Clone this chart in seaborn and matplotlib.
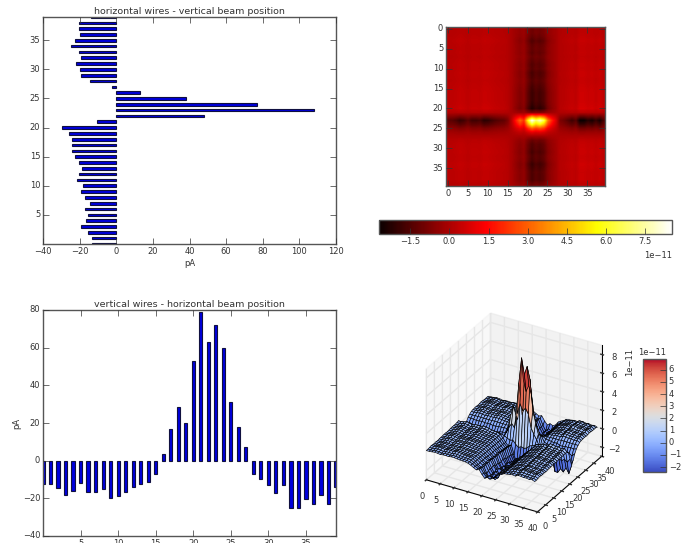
# beam profile from wire scanner: two projections plus the 2D map
import numpy as np
import pandas as pd
import matplotlib
matplotlib.use('Agg')
import matplotlib.pyplot as plt
import seaborn as sns

plt.style.use('classic')
plt.rcParams['font.family'] = ['DejaVu Sans']
plt.rcParams['font.size'] = 6
plt.rcParams['text.color'] = '#333333'
plt.rcParams['axes.labelcolor'] = '#333333'
plt.rcParams['xtick.color'] = '#333333'
plt.rcParams['ytick.color'] = '#333333'
plt.rcParams['xtick.major.pad'] = 2.5
plt.rcParams['ytick.major.pad'] = 2
plt.rcParams['axes.edgecolor'] = '#555555'

wires = list(range(40))
# pA
h_wires = [-13, -13, -15.5, -19.5, -16.5, -15.5, -17, -14.5, -17, -19,
           -18, -21.5, -20.5, -18.5, -20.5, -22.5, -24, -24, -24, -26,
           -29.5, -10.5, 48, 108, 77, 38, 13, -2.5, -14.5, -19,
           -20, -22, -19.5, -20.5, -24.5, -22.5, -20, -20.5, -20.5, -14]
v_wires = [-12.5, -12.5, -14.5, -18, -16, -12, -16.5, -16.5, -15, -20,
           -19, -16.5, -14, -12.5, -11.5, -7, 3.5, 17, 28.5, 20,
           53, 79, 63, 72, 60, 31, 18, 7.5, -7, -9.5,
           -13, -17, -13, -25, -25, -20.5, -23, -18, -23, -14]
wire_ticks = [5, 10, 15, 20, 25, 30, 35]
title_h = 'horizontal wires - vertical beam position'
title_v = 'vertical wires - horizontal beam position'

W, H = 694.0, 543.0
def place(x0, y0, x1, y1, **kw):
    # axes from pixel box, y counted from the top
    return fig.add_axes([x0 / W, 1 - y1 / H, (x1 - x0) / W, (y1 - y0) / H], **kw)

df = pd.DataFrame({'wire': wires, 'h': h_wires, 'v': v_wires})
# map is the product of both projections
beam = np.outer(np.array(h_wires), np.array(v_wires)) * 1e-14

fig = plt.figure(figsize=(W / 100, H / 100), dpi=100, facecolor='white')

ax1 = place(43, 17, 336, 244)
sns.barplot(data=df, x='h', y='wire', orient='h', native_scale=True, width=0.45,
            color='#0000dd', saturation=1, edgecolor='#101040', linewidth=0.8, ax=ax1)
ax1.set_ylim(0, 39)
ax1.set_xlim(-40, 120)
ax1.set_yticks(wire_ticks)
ax1.set_xlabel('pA', labelpad=1.5)
ax1.set_ylabel('')
ax1.set_title(title_h, fontsize=6.8, pad=2.5)

ax3 = place(43, 310, 336, 536)
sns.barplot(data=df, x='wire', y='v', native_scale=True, width=0.42,
            color='#0000dd', saturation=1, edgecolor='#101040', linewidth=0.8, ax=ax3)
ax3.set_xlim(0, 39)
ax3.set_ylim(-40, 80)
ax3.set_xticks(wire_ticks)
ax3.set_ylabel('pA')
ax3.yaxis.set_label_coords(-0.075, 0.5)
ax3.set_xlabel('')
ax3.set_title(title_v, fontsize=6.8, pad=2.5)

ax2 = place(446, 27, 605, 186)
im = ax2.imshow(beam, cmap='hot', interpolation='bilinear', aspect='auto')
ax2.set_xticks(range(0, 40, 5))
ax2.set_yticks(range(0, 40, 5))
cax = place(379, 220, 672, 234)
cb = fig.colorbar(im, cax=cax, orientation='horizontal')
cb.set_ticks([t * 1e-11 for t in [-1.5, 0, 1.5, 3, 4.5, 6, 7.5]])
cb.ax.xaxis.get_offset_text().set_fontsize(6)

ax4 = fig.add_axes([378 / W, 1 - 546 / H, 265 / W, 260 / H], projection='3d',
                   proj_type='ortho')
ax4.set_box_aspect((1, 1, 1.0), zoom=0.83)
X, Y = np.meshgrid(wires, wires)
surf = ax4.plot_surface(X, Y, beam, cmap='coolwarm', rstride=1, cstride=1,
                        edgecolor='black', linewidth=0.45, shade=False)
surf.set_clim(-2.41e-11, 6.88e-11)
ax4.set_xlim(0, 40)
ax4.set_ylim(0, 40)
ax4.set_zlim(-3e-11, 9e-11)
ax4.set_xticks(range(0, 41, 5))
ax4.set_yticks(range(0, 41, 5))
ax4.set_zticks([t * 1e-11 for t in [-2, 0, 2, 4, 6, 8]])
ax4.tick_params(pad=-1)
# offset text of the z axis lands on the colorbar, put it by hand
ax4.zaxis.get_offset_text().set_visible(False)
fig.text(630 / W, 1 - 362 / H, '1e\u221211', rotation=90, ha='center', va='center', fontsize=6)
cax2 = place(643, 359, 666, 472)
cb2 = fig.colorbar(surf, cax=cax2)
cb2.set_ticks([t * 1e-11 for t in [-2, -1, 0, 1, 2, 3, 4, 5, 6]])
cax2.yaxis.get_offset_text().set_fontsize(6)

fig.savefig('out.png', dpi=100)
